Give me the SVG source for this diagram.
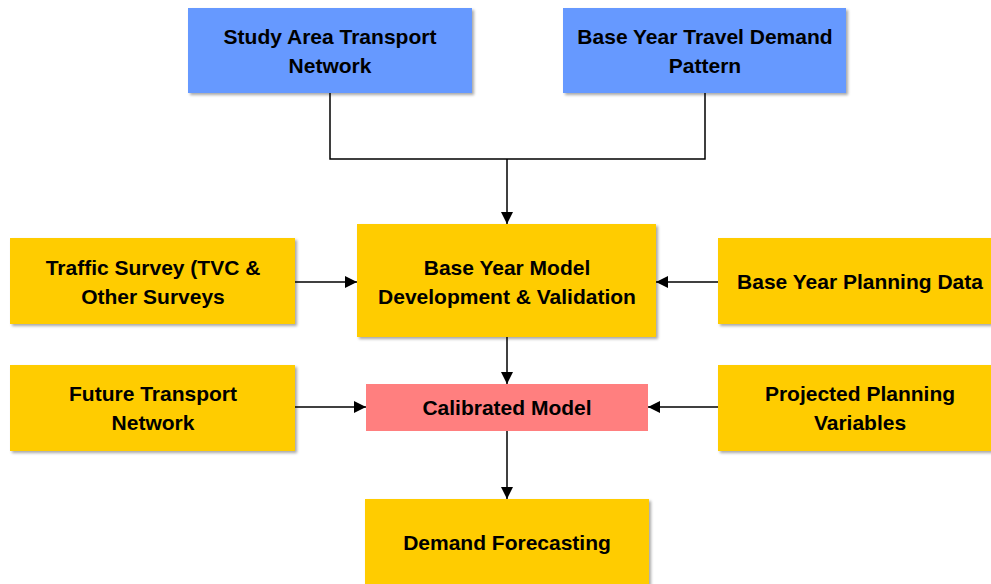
<svg xmlns="http://www.w3.org/2000/svg" width="991" height="584" viewBox="0 0 991 584">
<defs>
<filter id="sh" x="-5%" y="-5%" width="112%" height="120%">
<feGaussianBlur in="SourceAlpha" stdDeviation="1.5"/>
<feOffset dx="1.5" dy="2" result="b"/>
<feComponentTransfer><feFuncA type="linear" slope="0.35"/></feComponentTransfer>
<feMerge><feMergeNode/><feMergeNode in="SourceGraphic"/></feMerge>
</filter>
<marker id="ah" viewBox="0 0 12 12" refX="12" refY="6" markerWidth="12" markerHeight="12" markerUnits="userSpaceOnUse" orient="auto">
<path d="M0,0 L12,6 L0,12 z" fill="#000"/>
</marker>
</defs>
<style>
.blue{fill:#6699FF;filter:url(#sh)}
.yel{fill:#FFCC00;filter:url(#sh)}
.red{fill:#FF7F7F}
text{font-family:"Liberation Sans",Arial,sans-serif;font-weight:bold;font-size:21px;fill:#000;text-anchor:middle}
.c{fill:none;stroke:#000;stroke-width:1.5}
</style>
<rect width="991" height="584" fill="#fff"/>
<g id="n1"><rect class="blue" x="188" y="8" width="284" height="85"/><text x="330" y="44">Study Area Transport</text><text x="330" y="73">Network</text></g>
<g id="n2"><rect class="blue" x="563" y="8" width="283" height="85"/><text x="705" y="44">Base Year Travel Demand</text><text x="705" y="73">Pattern</text></g>
<g id="n3"><rect class="yel" x="357" y="224" width="299" height="113"/><text x="507" y="275">Base Year Model</text><text x="507" y="304">Development &amp; Validation</text></g>
<g id="n4"><rect class="yel" x="10" y="238" width="285" height="86"/><text x="153" y="275">Traffic Survey (TVC &amp;</text><text x="153" y="304">Other Surveys</text></g>
<g id="n5"><rect class="yel" x="718" y="238" width="280" height="86"/><text x="860" y="289">Base Year Planning Data</text></g>
<g id="n6"><rect class="yel" x="10" y="365" width="285" height="86"/><text x="153" y="401">Future Transport</text><text x="153" y="430">Network</text></g>
<g id="n7"><rect class="red" x="366" y="384" width="282" height="47"/><text x="507" y="415">Calibrated Model</text></g>
<g id="n8"><rect class="yel" x="718" y="365" width="280" height="86"/><text x="860" y="401">Projected Planning</text><text x="860" y="430">Variables</text></g>
<g id="n9"><rect class="yel" x="365" y="499" width="284" height="95"/><text x="507" y="550">Demand Forecasting</text></g>
<g id="connectors">
<path class="c" d="M330,93 V159 H705 V93"/>
<path class="c" d="M507,159 V224" marker-end="url(#ah)"/>
<path class="c" d="M295,282 H357" marker-end="url(#ah)"/>
<path class="c" d="M718,282 H656" marker-end="url(#ah)"/>
<path class="c" d="M507,337 V384" marker-end="url(#ah)"/>
<path class="c" d="M295,407 H366" marker-end="url(#ah)"/>
<path class="c" d="M718,407 H648" marker-end="url(#ah)"/>
<path class="c" d="M507,431 V499" marker-end="url(#ah)"/>
</g>
</svg>
